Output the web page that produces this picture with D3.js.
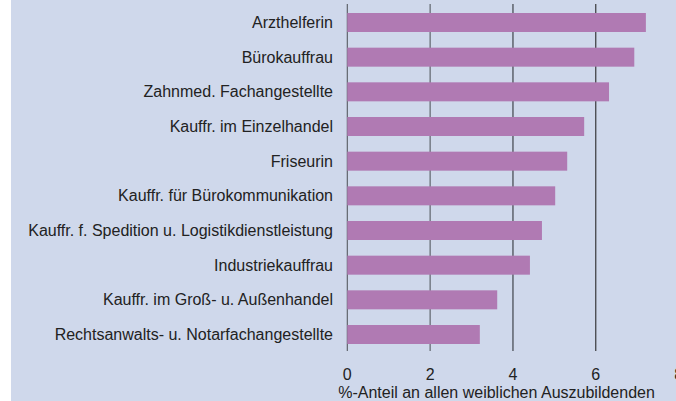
<!DOCTYPE html>
<html>
<head>
<meta charset="utf-8">
<script src="https://cdn.jsdelivr.net/npm/d3@7"></script>
<style>
  html, body { margin: 0; padding: 0; background: #ffffff; }
  svg { display: block; }
</style>
</head>
<body>
<svg id="chart" width="676" height="401"></svg>
<script>
const categories = [
  "Arzthelferin",
  "Bürokauffrau",
  "Zahnmed. Fachangestellte",
  "Kauffr. im Einzelhandel",
  "Friseurin",
  "Kauffr. für Bürokommunikation",
  "Kauffr. f. Spedition u. Logistikdienstleistung",
  "Industriekauffrau",
  "Kauffr. im Groß- u. Außenhandel",
  "Rechtsanwalts- u. Notarfachangestellte"
];
const values = [7.21, 6.93, 6.32, 5.72, 5.31, 5.02, 4.70, 4.41, 3.62, 3.20];
const xTicks = [0, 2, 4, 6, 8];
const xTitle = "%-Anteil an allen weiblichen Auszubildenden";

const W = 676, H = 401;
const svg = d3.select("#chart");
const font = "'Liberation Sans', Arial, sans-serif";

// background panel
svg.append("rect").attr("x", 11).attr("y", 0).attr("width", W - 11).attr("height", H)
  .attr("fill", "#cfd8eb");

const x = d3.scaleLinear().domain([0, 8]).range([347.3, 678.6]);
const y = d3.scaleBand().domain(categories).range([13, 344]).paddingInner(0.452).paddingOuter(0);

// gridlines
const gridColor = v => v === 4 ? "#6f7580" : (v === 6 ? "#2b2b2b" : "#555a60");
const gridWidth = v => v === 4 ? 1.8 : 1.1;
svg.append("g").selectAll("line").data(xTicks.filter(t => t < 8)).join("line")
  .attr("x1", d => x(d)).attr("x2", d => x(d))
  .attr("y1", 4).attr("y2", 351)
  .attr("stroke", d => gridColor(d)).attr("stroke-width", d => gridWidth(d));

// bars
svg.append("g").selectAll("rect").data(categories).join("rect")
  .attr("x", x(0))
  .attr("y", d => y(d))
  .attr("width", (d, i) => x(values[i]) - x(0))
  .attr("height", y.bandwidth())
  .attr("fill", "#b07ab3");

// category labels
svg.append("g").selectAll("text").data(categories).join("text")
  .attr("x", 333)
  .attr("y", d => y(d) + y.bandwidth() / 2)
  .attr("dy", "0.35em")
  .attr("text-anchor", "end")
  .attr("font-family", font).attr("font-size", 16)
  .attr("fill", "#222")
  .text(d => d);

// x tick labels
svg.append("g").selectAll("text").data(xTicks).join("text")
  .attr("x", d => x(d))
  .attr("y", 380)
  .attr("text-anchor", "middle")
  .attr("font-family", font).attr("font-size", 16)
  .attr("fill", "#222")
  .text(d => d);

// x title
svg.append("text")
  .attr("x", 496.5).attr("y", 398)
  .attr("text-anchor", "middle")
  .attr("font-family", font).attr("font-size", 16)
  .attr("fill", "#222")
  .text(xTitle);
</script>
</body>
</html>
